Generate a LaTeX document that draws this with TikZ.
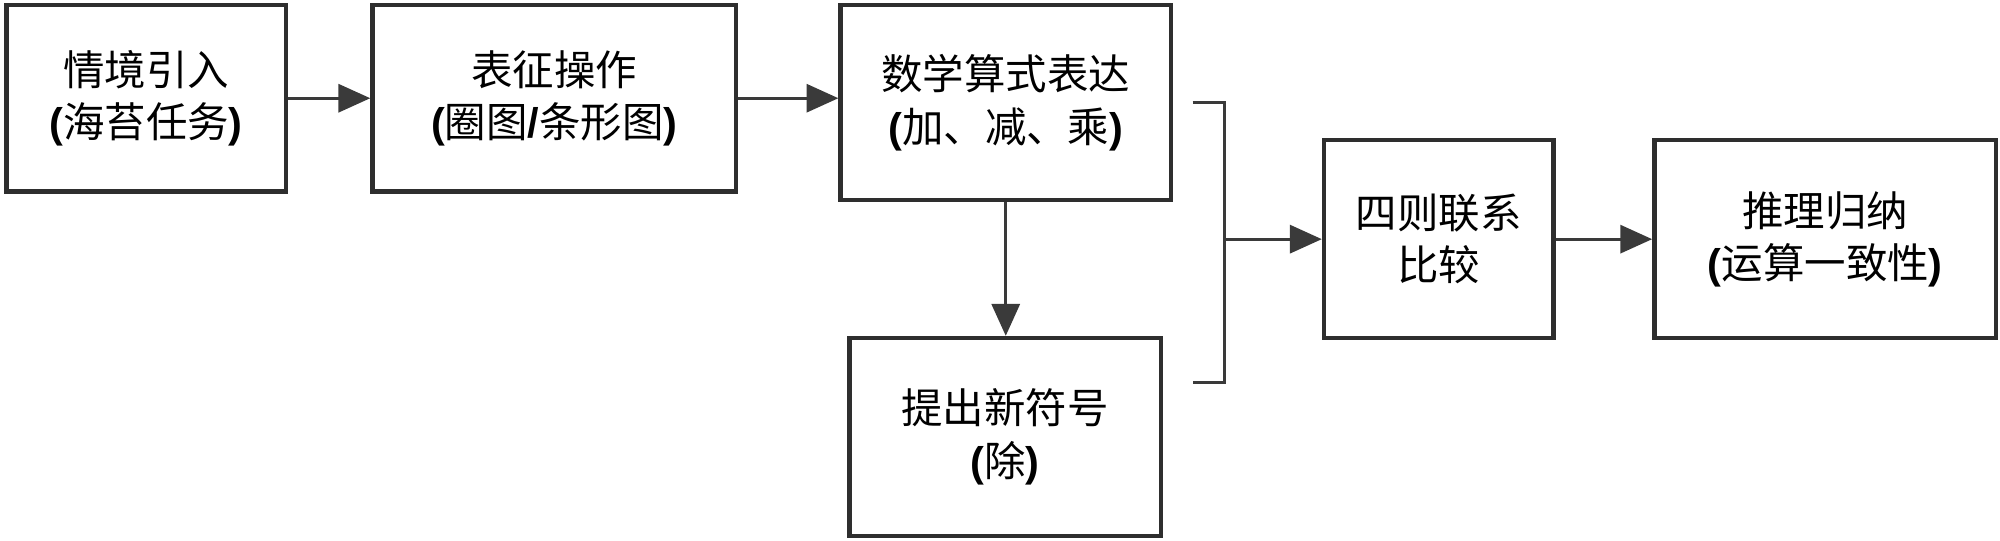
\documentclass[tikz,border=0pt]{standalone}
\usepackage{fontspec}
\setmainfont{Noto Sans CJK SC}
\newfontfamily\pbfont{Liberation Sans}
\newcommand{\lpar}{{\pbfont\bfseries(}}
\newcommand{\rpar}{{\pbfont\bfseries)}}
\newcommand{\slsh}{{\pbfont\bfseries/}}
\usetikzlibrary{arrows.meta}
\definecolor{edge}{HTML}{2E2E2E}
\definecolor{conncol}{HTML}{3A3A3A}
\tikzset{
  boxnode/.style={draw=edge, line width=3.4pt, align=center, inner sep=0pt,
    font=\fontsize{32.5}{41}\selectfont},
  conn/.style={draw=conncol, line width=2.4pt,
    -{Triangle[length=25pt,width=22pt]}},
  brack/.style={draw=conncol, line width=2.4pt}
}
\begin{document}
\begin{tikzpicture}[x=1pt,y=-1pt]
\useasboundingbox (0,0) rectangle (1568,423.4);
\node[boxnode, minimum width=219pt, minimum height=146pt] (b1) at (114.5,77) {情境引入\\\lpar 海苔任务\rpar};
\node[boxnode, minimum width=285pt, minimum height=146pt] (b2) at (434.5,77) {表征操作\\\lpar 圈图\slsh 条形图\rpar};
\node[boxnode, minimum width=259pt, minimum height=153pt] (b3) at (788.5,80.5) {数学算式表达\\\lpar 加、减、乘\rpar};
\node[boxnode, minimum width=244pt, minimum height=155pt] (b4) at (788,342.5) {提出新符号\\\lpar 除\rpar};
\node[boxnode, minimum width=180pt, minimum height=155pt] (b5) at (1128,187.5) {四则联系\\比较};
\node[boxnode, minimum width=268pt, minimum height=155pt] (b6) at (1431,187.5) {推理归纳\\\lpar 运算一致性\rpar};
\coordinate (bt1) at (935,80);
\coordinate (bt2) at (960,80);
\coordinate (bb2) at (960,300);
\coordinate (bb1) at (935,300);
\coordinate (bm) at (960,187.5);
\draw[conn] (b1.east) -- (b2.west);
\draw[conn] (b2.east) -- (b2.east -| b3.west);
\draw[conn] (b3.south) -- (b3.south |- b4.north);
\draw[brack] (bt1) -- (bt2) -- (bb2) -- (bb1);
\draw[conn] (bm) -- (b5.west);
\draw[conn] (b5.east) -- (b6.west);
\end{tikzpicture}
\end{document}
